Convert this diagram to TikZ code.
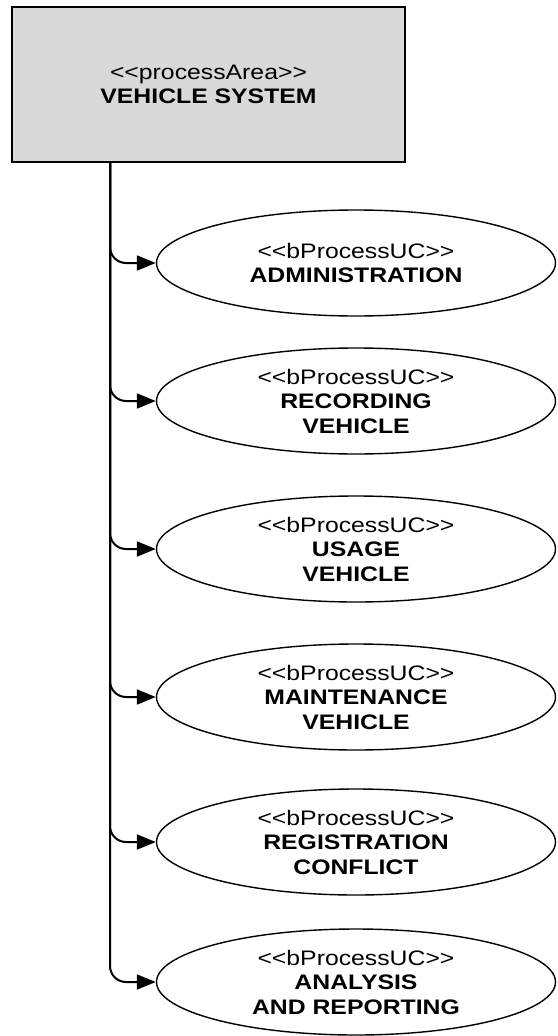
\documentclass[tikz,border=0pt]{standalone}
\usepackage{fontspec}
\setmainfont{Liberation Sans}[FakeStretch=1.18]
\usetikzlibrary{shapes.geometric,arrows.meta}
\tikzset{
  area/.style={draw,line width=1.9pt,fill=black!15,minimum width=393pt,minimum height=155pt,align=center,inner sep=0pt},
  uc/.style={draw,ellipse,line width=1.4pt,minimum width=399pt,minimum height=106pt,inner sep=0pt,align=center},
  flow/.style={line width=2pt,rounded corners=16pt,-{Triangle[length=19pt,width=15pt]}}
}
\begin{document}
\begin{tikzpicture}[x=1pt,y=-1pt,font=\fontsize{21}{24.5}\selectfont]
        \useasboundingbox (0,0) rectangle (557,1036);
        \node[area] (sys) at (208.5,84.5) {<{}<processArea>{}>\\\textbf{VEHICLE SYSTEM}};
        \coordinate (trunk) at (110,162);
        \node[uc] (admin)    at (356,263) {<{}<bProcessUC>{}>\\\textbf{ADMINISTRATION}};
        \node[uc] (record)   at (356,401) {<{}<bProcessUC>{}>\\\textbf{RECORDING}\\\textbf{VEHICLE}};
        \node[uc] (usage)    at (356,549) {<{}<bProcessUC>{}>\\\textbf{USAGE}\\\textbf{VEHICLE}};
        \node[uc] (maint)    at (356,697) {<{}<bProcessUC>{}>\\\textbf{MAINTENANCE}\\\textbf{VEHICLE}};
        \node[uc] (conflict) at (356,842) {<{}<bProcessUC>{}>\\\textbf{REGISTRATION}\\\textbf{CONFLICT}};
        \node[uc] (report)   at (356,982) {<{}<bProcessUC>{}>\\\textbf{ANALYSIS}\\\textbf{AND REPORTING}};
        \draw[flow] (trunk) |- (admin.west);
        \draw[flow] (trunk) |- (record.west);
        \draw[flow] (trunk) |- (usage.west);
        \draw[flow] (trunk) |- (maint.west);
        \draw[flow] (trunk) |- (conflict.west);
        \draw[flow] (trunk) |- (report.west);
\end{tikzpicture}
\end{document}
